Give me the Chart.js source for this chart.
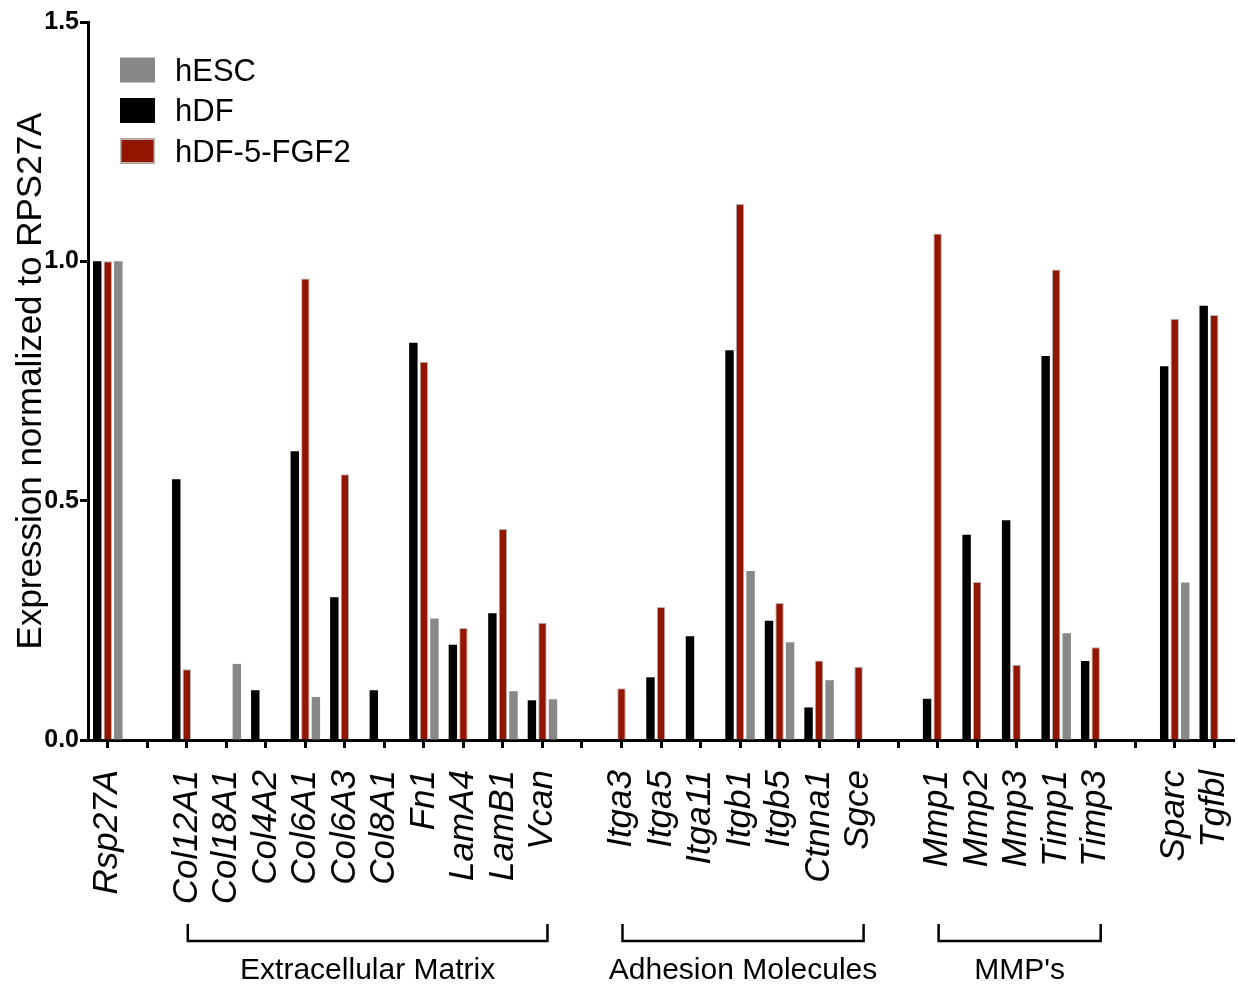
<!DOCTYPE html>
<html>
<head>
<meta charset="utf-8">
<script src="https://cdn.jsdelivr.net/npm/chart.js@4.4.0/dist/chart.umd.min.js"></script>
<style>
  body { margin: 0; background: #fff; }
  #wrap { width: 1238px; height: 987px; }
</style>
</head>
<body>
<div id="wrap"><canvas id="geneChart"></canvas></div>
<script>
// categories ('' = gap between groups)
var genes = ['Rsp27A', '', 'Col12A1', 'Col18A1', 'Col4A2', 'Col6A1', 'Col6A3', 'Col8A1', 'Fn1', 'LamA4', 'LamB1', 'Vcan', '',
    'Itga3', 'Itga5', 'Itga11', 'Itgb1', 'Itgb5', 'Ctnna1', 'Sgce', '',
    'Mmp1', 'Mmp2', 'Mmp3', 'Timp1', 'Timp3', '', 'Sparc', 'Tgfbl'];

var hDF = [1.0, null, 0.545, null, 0.104, 0.603, 0.298, 0.104, 0.830, 0.199, 0.265, 0.083, null,
    null, 0.131, 0.217, 0.814, 0.249, 0.068, null, null,
    0.086, 0.429, 0.459, 0.802, 0.165, null, 0.781, 0.907];

var hDF5FGF2 = [1.0, null, 0.148, null, null, 0.964, 0.555, null, 0.790, 0.234, 0.441, 0.245, null,
    0.108, 0.278, null, 1.120, 0.286, 0.166, 0.153, null,
    1.058, 0.330, 0.157, 0.983, 0.194, null, 0.880, 0.888];

var hESC = [1.0, null, null, 0.159, null, 0.090, null, null, 0.254, null, 0.102, 0.085, null,
    null, null, null, 0.353, 0.204, 0.125, null, null,
    null, null, null, 0.223, null, null, 0.329, null];

var yTicks = [0, 0.5, 1.0, 1.5];

// groups under the axis: label, first gene, last gene
var groupNames = ['Extracellular Matrix', 'Adhesion Molecules', "MMP's"];
var groupFrom = ['Col12A1', 'Itga3', 'Mmp1'];
var groupTo = ['Vcan', 'Sgce', 'Timp3'];

var legendOrder = ['hESC', 'hDF', 'hDF-5-FGF2'];

var FONT = "'Liberation Sans', Arial, Helvetica, sans-serif";

// legend drawn inside the plot, top left
var insideLegend = {
    id: 'insideLegend',
    afterDraw: function (chart) {
        var ctx = chart.ctx;
        ctx.save();
        ctx.font = '31px ' + FONT;
        ctx.textBaseline = 'middle';
        ctx.textAlign = 'left';
        legendOrder.forEach(function (name, i) {
            var ds = chart.data.datasets.find(function (d) { return d.label === name; });
            var y = 70 + i * 40.5;
            ctx.fillStyle = ds.backgroundColor;
            ctx.fillRect(120, y - 12.5, 35, 25);
            if (ds.borderWidth) {
                ctx.strokeStyle = '#b4b4b4';
                ctx.lineWidth = 1.5;
                ctx.strokeRect(120.75, y - 11.75, 33.5, 23.5);
            }
            ctx.fillStyle = '#000';
            ctx.fillText(name, 175, y + 2);
        });
        ctx.restore();
    }
};

// brackets and group names below the gene labels
var groupBrackets = {
    id: 'groupBrackets',
    afterDraw: function (chart) {
        var ctx = chart.ctx;
        var x = chart.scales.x;
        ctx.save();
        ctx.strokeStyle = '#000';
        ctx.lineWidth = 2.5;
        ctx.font = '30px ' + FONT;
        ctx.fillStyle = '#000';
        ctx.textAlign = 'center';
        ctx.textBaseline = 'middle';
        groupNames.forEach(function (name, i) {
            var x1 = x.getPixelForValue(genes.indexOf(groupFrom[i])) + 1;
            var x2 = x.getPixelForValue(genes.indexOf(groupTo[i])) + 5;
            ctx.beginPath();
            ctx.moveTo(x1, 924);
            ctx.lineTo(x1, 941);
            ctx.lineTo(x2, 941);
            ctx.lineTo(x2, 924);
            ctx.stroke();
            ctx.fillText(name, (x1 + x2) / 2, 971);
        });
        ctx.restore();
    }
};

var ctx = document.getElementById('geneChart').getContext('2d');
new Chart(ctx, {
    type: 'bar',
    data: {
        labels: genes,
        datasets: [{
            label: 'hDF',
            backgroundColor: '#000000',
            data: hDF
        }, {
            label: 'hDF-5-FGF2',
            backgroundColor: '#921500',
            borderColor: '#b4b4b4',
            borderWidth: 1,
            data: hDF5FGF2
        }, {
            label: 'hESC',
            backgroundColor: '#888888',
            data: hESC
        }]
    },
    options: {
        responsive: true,
        maintainAspectRatio: false,
        animation: false,
        categoryPercentage: 0.8,
        barPercentage: 0.8,
        layout: { padding: { top: 22, right: 4, bottom: 80, left: 0 } },
        plugins: {
            legend: { display: false },
            tooltip: { enabled: false }
        },
        scales: {
            x: {
                offset: true,
                grid: {
                    display: true,
                    offset: false,
                    drawOnChartArea: false,
                    drawTicks: true,
                    tickLength: 8,
                    tickWidth: 3,
                    tickColor: '#000'
                },
                border: { display: true, color: '#000', width: 3 },
                ticks: {
                    autoSkip: false,
                    minRotation: 90,
                    maxRotation: 90,
                    padding: 22,
                    color: '#000',
                    font: { family: FONT, size: 35, style: 'italic' }
                },
                afterFit: function (s) {
                    s.height = 167;
                    s.paddingLeft = 0;
                    s.paddingRight = 0;
                }
            },
            y: {
                min: 0,
                max: 1.5,
                afterBuildTicks: function (s) {
                    s.ticks = yTicks.map(function (v) { return { value: v }; });
                },
                grid: {
                    display: true,
                    drawOnChartArea: false,
                    drawTicks: true,
                    tickLength: 8,
                    tickWidth: 3,
                    tickColor: '#000'
                },
                border: { display: true, color: '#000', width: 3 },
                ticks: {
                    padding: 1,
                    color: '#000',
                    font: { family: FONT, size: 25, weight: 'bold' },
                    callback: function (v) { return Number(v).toFixed(1); }
                },
                title: {
                    display: true,
                    text: 'Expression normalized to RPS27A',
                    color: '#000',
                    padding: { top: 10, bottom: 0 },
                    font: { family: FONT, size: 35 }
                },
                afterFit: function (s) {
                    s.width = 88;
                    s.paddingTop = 0;
                    s.paddingBottom = 0;
                }
            }
        }
    },
    plugins: [insideLegend, groupBrackets]
});
</script>
</body>
</html>
